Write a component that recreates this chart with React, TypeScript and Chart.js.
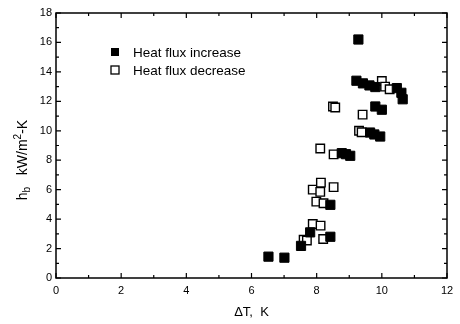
import React, { useEffect, useRef } from "react";
import { Chart, registerables } from "chart.js";

Chart.register(...registerables);

const xTicks = [0, 2, 4, 6, 8, 10, 12];
const yTicks = [0, 2, 4, 6, 8, 10, 12, 14, 16, 18];

const seriesNames = ["Heat flux increase", "Heat flux decrease"];

const increaseX = [6.52, 7.01, 7.52, 7.8, 8.42, 8.42, 8.77, 8.9, 9.03, 9.64, 9.77, 9.95, 9.8, 10.0, 9.28, 9.22, 9.42, 9.62, 9.8, 10.46, 10.6, 10.64];
const increaseY = [1.45, 1.38, 2.18, 3.1, 2.8, 4.97, 8.48, 8.41, 8.3, 9.88, 9.75, 9.61, 11.65, 11.43, 16.2, 13.4, 13.22, 13.08, 12.97, 12.9, 12.58, 12.14];

const decreaseX = [7.6, 7.7, 8.2, 7.88, 8.12, 7.99, 8.21, 7.88, 8.11, 8.13, 8.52, 8.11, 8.52, 8.5, 8.57, 9.3, 9.38, 9.41, 10.0, 10.1, 10.24];
const decreaseY = [2.6, 2.55, 2.65, 3.67, 3.56, 5.19, 5.08, 6.0, 5.85, 6.48, 6.17, 8.8, 8.4, 11.65, 11.58, 10.0, 9.9, 11.1, 13.38, 13.0, 12.82];

const FONT = "'Liberation Sans', Arial, sans-serif";

const framePlugin = {
  id: "frame",
  afterDraw(chart: any) {
    const { ctx, chartArea } = chart;
    const { left, right, top, bottom } = chartArea;
    const xs = chart.scales.x;
    const ys = chart.scales.y;
    ctx.save();
    ctx.strokeStyle = "#000";
    ctx.lineWidth = 1.5;
    ctx.strokeRect(left, top, right - left, bottom - top);
    ctx.lineWidth = 1.2;
    ctx.beginPath();
    for (let v = 0; v <= 12; v++) {
      const len = v % 2 === 0 ? 5 : 3;
      const px = xs.getPixelForValue(v);
      ctx.moveTo(px, bottom);
      ctx.lineTo(px, bottom - len);
      ctx.moveTo(px, top);
      ctx.lineTo(px, top + len);
    }
    for (let v = 0; v <= 18; v++) {
      const len = v % 2 === 0 ? 5 : 3;
      const py = ys.getPixelForValue(v);
      ctx.moveTo(left, py);
      ctx.lineTo(left + len, py);
      ctx.moveTo(right, py);
      ctx.lineTo(right - len, py);
    }
    ctx.stroke();

    // Legend
    ctx.fillStyle = "#000";
    ctx.fillRect(111, 48, 8, 8);
    ctx.fillStyle = "#fff";
    ctx.fillRect(111, 66, 8, 8);
    ctx.lineWidth = 1.3;
    ctx.strokeRect(111, 66, 8, 8);
    ctx.fillStyle = "#000";
    ctx.font = `13.5px ${FONT}`;
    ctx.textBaseline = "middle";
    ctx.textAlign = "left";
    ctx.fillText(seriesNames[0], 133, 53);
    ctx.fillText(seriesNames[1], 133, 71);

    // X title
    ctx.textAlign = "center";
    ctx.textBaseline = "middle";
    ctx.font = `13px ${FONT}`;
    ctx.fillText("\u0394T,  K", (left + right) / 2, 312);

    // Y title with subscript/superscript
    ctx.translate(22, 160);
    ctx.rotate(-Math.PI / 2);
    ctx.textAlign = "left";
    ctx.textBaseline = "alphabetic";
    const big = `14px ${FONT}`;
    const small = `10px ${FONT}`;
    const parts: [string, string, number][] = [
      ["h", big, 0],
      ["b", small, 3],
      ["   kW/m", big, 0],
      ["2", small, -6],
      ["-K", big, 0],
    ];
    let total = 0;
    for (const [t, f] of parts) {
      ctx.font = f;
      total += ctx.measureText(t).width;
    }
    let x = -total / 2;
    for (const [t, f, dy] of parts) {
      ctx.font = f;
      ctx.fillText(t, x, 5 + dy);
      x += ctx.measureText(t).width;
    }
    ctx.restore();
  },
};

export default function App() {
  const ref = useRef<HTMLCanvasElement | null>(null);
  useEffect(() => {
    if (!ref.current) return;
    const chart = new Chart(ref.current, {
      type: "scatter",
      data: {
        datasets: [
          {
            label: seriesNames[0],
            data: increaseX.map((x, i) => ({ x, y: increaseY[i] })),
            pointStyle: "rect",
            pointRadius: 6.5,
            backgroundColor: "#000",
            borderColor: "#000",
            borderWidth: 1,
          },
          {
            label: seriesNames[1],
            data: decreaseX.map((x, i) => ({ x, y: decreaseY[i] })),
            pointStyle: "rect",
            pointRadius: 6,
            backgroundColor: "#fff",
            borderColor: "#000",
            borderWidth: 1.4,
          },
        ],
      },
      options: {
        animation: false,
        responsive: false,
        layout: { padding: { top: 13, right: 13, left: 0, bottom: 0 } },
        plugins: { legend: { display: false }, tooltip: { enabled: false } },
        scales: {
          x: {
            type: "linear",
            min: 0,
            max: 12,
            afterBuildTicks: (s: any) => {
              s.ticks = xTicks.map((v) => ({ value: v }));
            },
            afterFit: (s: any) => {
              s.height = 46;
            },
            grid: { display: false, drawTicks: false },
            border: { display: false },
            ticks: {
              color: "#000",
              padding: 6,
              font: { family: FONT, size: 11 },
              maxRotation: 0,
            },
          },
          y: {
            type: "linear",
            min: 0,
            max: 18,
            afterBuildTicks: (s: any) => {
              s.ticks = yTicks.map((v) => ({ value: v }));
            },
            afterFit: (s: any) => {
              s.width = 56;
            },
            grid: { display: false, drawTicks: false },
            border: { display: false },
            ticks: {
              color: "#000",
              padding: 4,
              font: { family: FONT, size: 11 },
            },
          },
        },
      },
      plugins: [framePlugin],
    });
    return () => chart.destroy();
  }, []);
  return (
    <div style={{ position: "fixed", left: 0, top: 0, width: 460, height: 324, background: "#fff" }}>
      <canvas ref={ref} width={460} height={324} style={{ width: 460, height: 324 }} />
    </div>
  );
}
